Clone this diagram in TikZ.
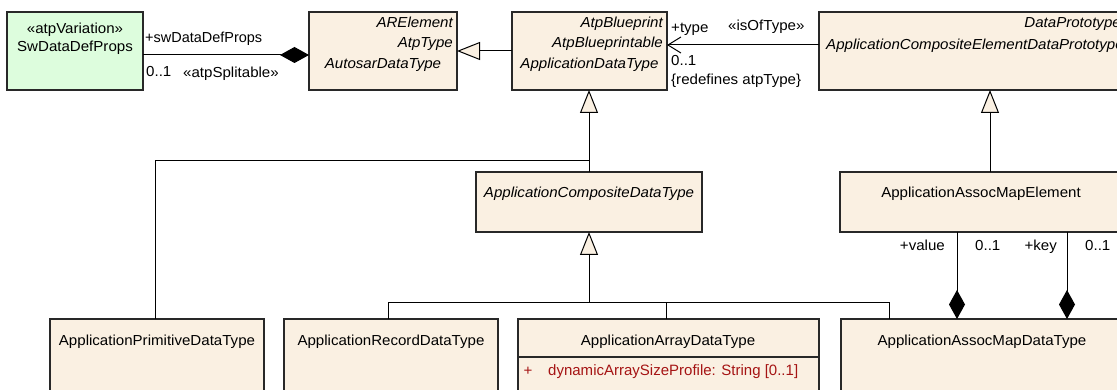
\documentclass[tikz,border=0pt]{standalone}
\usepackage{graphicx}
\usepackage{fontspec}
\setmainfont{Liberation Sans}[FakeStretch=1.04]
\newfontfamily\labfont{Liberation Sans}
\usetikzlibrary{arrows.meta,calc}
\definecolor{clsfill}{RGB}{250,240,226}
\definecolor{varfill}{RGB}{221,253,221}
\definecolor{bordercol}{RGB}{40,40,40}
\definecolor{attrred}{RGB}{165,20,20}
\tikzset{
  cls/.style={draw=bordercol, fill=clsfill, line width=1.2pt, rectangle, anchor=north west, inner sep=0pt, outer sep=0pt},
  txt/.style={inner sep=0pt, font=\fontsize{14.5}{17}\selectfont},
  itxt/.style={inner sep=0pt, font=\fontsize{14.5}{17}\selectfont\itshape},
  conn/.style={draw=black, line width=1pt},
  gen/.style={conn, -{Triangle[length=23pt, width=18pt, fill=clsfill]}},
  compo/.style={conn, -{Diamond[length=29pt, width=16pt]}},
  assoc/.style={conn, -{Straight Barb[length=13pt, width=16pt]}},
}
\begin{document}
\begin{tikzpicture}[x=1pt,y=-1pt]
\useasboundingbox (0,0) rectangle (1117,390);
\fill[white] (0,0) rectangle (1117,390);
\clip (0,0) rectangle (1117,390);
% boxes
\node[cls, fill=varfill, minimum width=136pt, minimum height=78pt] (sw) at (7,12) {};
\node[cls, minimum width=148pt, minimum height=78pt] (adt) at (309,12) {};
\node[cls, minimum width=155pt, minimum height=78pt] (appdt) at (512,12) {};
\node[cls, minimum width=311pt, minimum height=78pt] (cedp) at (819,12) {};
\node[cls, minimum width=226pt, minimum height=60pt] (comp) at (476,172) {};
\node[cls, minimum width=283pt, minimum height=60pt] (ame) at (840,172) {};
\node[cls, minimum width=214pt, minimum height=90pt] (prim) at (50,319) {};
\node[cls, minimum width=214pt, minimum height=90pt] (rec) at (284,319) {};
\node[cls, minimum width=301pt, minimum height=90pt] (arr) at (518,319) {};
\node[cls, minimum width=282pt, minimum height=90pt] (amdt) at (841,319) {};
\draw[draw=bordercol, line width=1.2pt] ([yshift=-38pt]arr.north west) -- ([yshift=-38pt]arr.north east);
% connectors
\coordinate (j1) at (589,161);
\coordinate (j2) at (589,302);
\draw[compo] ([yshift=-4pt]sw.east) -- ([yshift=-4pt]sw.east -| adt.west);
\draw[gen] (appdt.west) -- (appdt.west -| adt.east);
\draw[assoc] ([yshift=6pt]cedp.west) -- ([yshift=6pt]cedp.west -| appdt.east);
\draw[gen] (comp.north) -- (comp.north |- appdt.south);
\draw[conn] ([xshift=105pt]prim.north west) |- (j1 -| comp.north);
\draw[gen] (comp.south |- j2) -- (comp.south);
\draw[conn] ([xshift=104pt]rec.north west) |- ([xshift=48pt]amdt.north west |- j2) -- ([xshift=48pt]amdt.north west);
\draw[conn] ([xshift=148pt]arr.north west) -- ([xshift=148pt]arr.north west |- j2);
\draw[gen] ([xshift=150pt]ame.north west) -- ([xshift=150pt]ame.north west |- cedp.south);
\draw[compo] ([xshift=117pt]ame.south west) -- ([xshift=116pt]amdt.north west);
\draw[compo] ([xshift=227pt]ame.south west) -- ([xshift=226pt]amdt.north west);
% class texts
\node[txt, anchor=mid] (tsw1) at (75,31) {«atpVariation»};
\node[txt, anchor=mid] (tsw2) at (75,49) {SwDataDefProps};
\node[itxt, anchor=mid east] (tadt1) at (453,25) {ARElement};
\node[itxt, anchor=mid east] (tadt2) at (453,45) {AtpType};
\node[itxt, anchor=mid] (tadt3) at (383,66) {AutosarDataType};
\node[itxt, anchor=mid east] (tap1) at (663,25) {AtpBlueprint};
\node[itxt, anchor=mid east] (tap2) at (663,45) {AtpBlueprintable};
\node[itxt, anchor=mid] (tap3) at (589.5,66) {ApplicationDataType};
\node[itxt, anchor=mid east] (tce1) at (1121,25) {DataPrototype};
\node[itxt, anchor=mid west] (tce2) at (826,47) {ApplicationCompositeElementDataPrototype};
\node[itxt, anchor=mid] (tcomp) at (589,195) {ApplicationCompositeDataType};
\node[txt, anchor=mid] (tame) at (981,195) {ApplicationAssocMapElement};
\node[txt, anchor=mid] (tprim) at (157,343) {ApplicationPrimitiveDataType};
\node[txt, anchor=mid] (trec) at (391,343) {ApplicationRecordDataType};
\node[txt, anchor=mid] (tarr) at (668,343) {ApplicationArrayDataType};
\node[txt, anchor=mid] (tamdt) at (982,343) {ApplicationAssocMapDataType};
\node[txt, anchor=mid, text=attrred] (tattr1) at (528,373) {+};
\node[txt, anchor=mid west, text=attrred, font=\labfont\fontsize{13.5}{16}\selectfont] (tattr2) at (548,373) {\resizebox{250pt}{!}{dynamicArraySizeProfile: String [0..1]}};
% connector labels
\node[txt, anchor=mid west, font=\labfont\fontsize{13.6}{16}\selectfont] (lsw1) at (145,40) {\resizebox{117pt}{!}{+swDataDefProps}};
\node[txt, anchor=mid west] (lsw2) at (146,74) {0..1};
\node[txt, anchor=mid west] (lsw3) at (183,75) {«atpSplitable»};
\node[txt, anchor=mid west] (lt1) at (671,30) {+type};
\node[txt, anchor=mid west] (lt2) at (728,28) {«isOfType»};
\node[txt, anchor=mid west] (lt3) at (671,63) {0..1};
\node[txt, anchor=mid west] (lt4) at (671,82) {\{redefines atpType\}};
\node[txt, anchor=mid east] (lv1) at (945,248) {+value};
\node[txt, anchor=mid west] (lv2) at (975,248) {0..1};
\node[txt, anchor=mid east] (lk1) at (1057,248) {+key};
\node[txt, anchor=mid west] (lk2) at (1085,248) {0..1};
\end{tikzpicture}
\end{document}
